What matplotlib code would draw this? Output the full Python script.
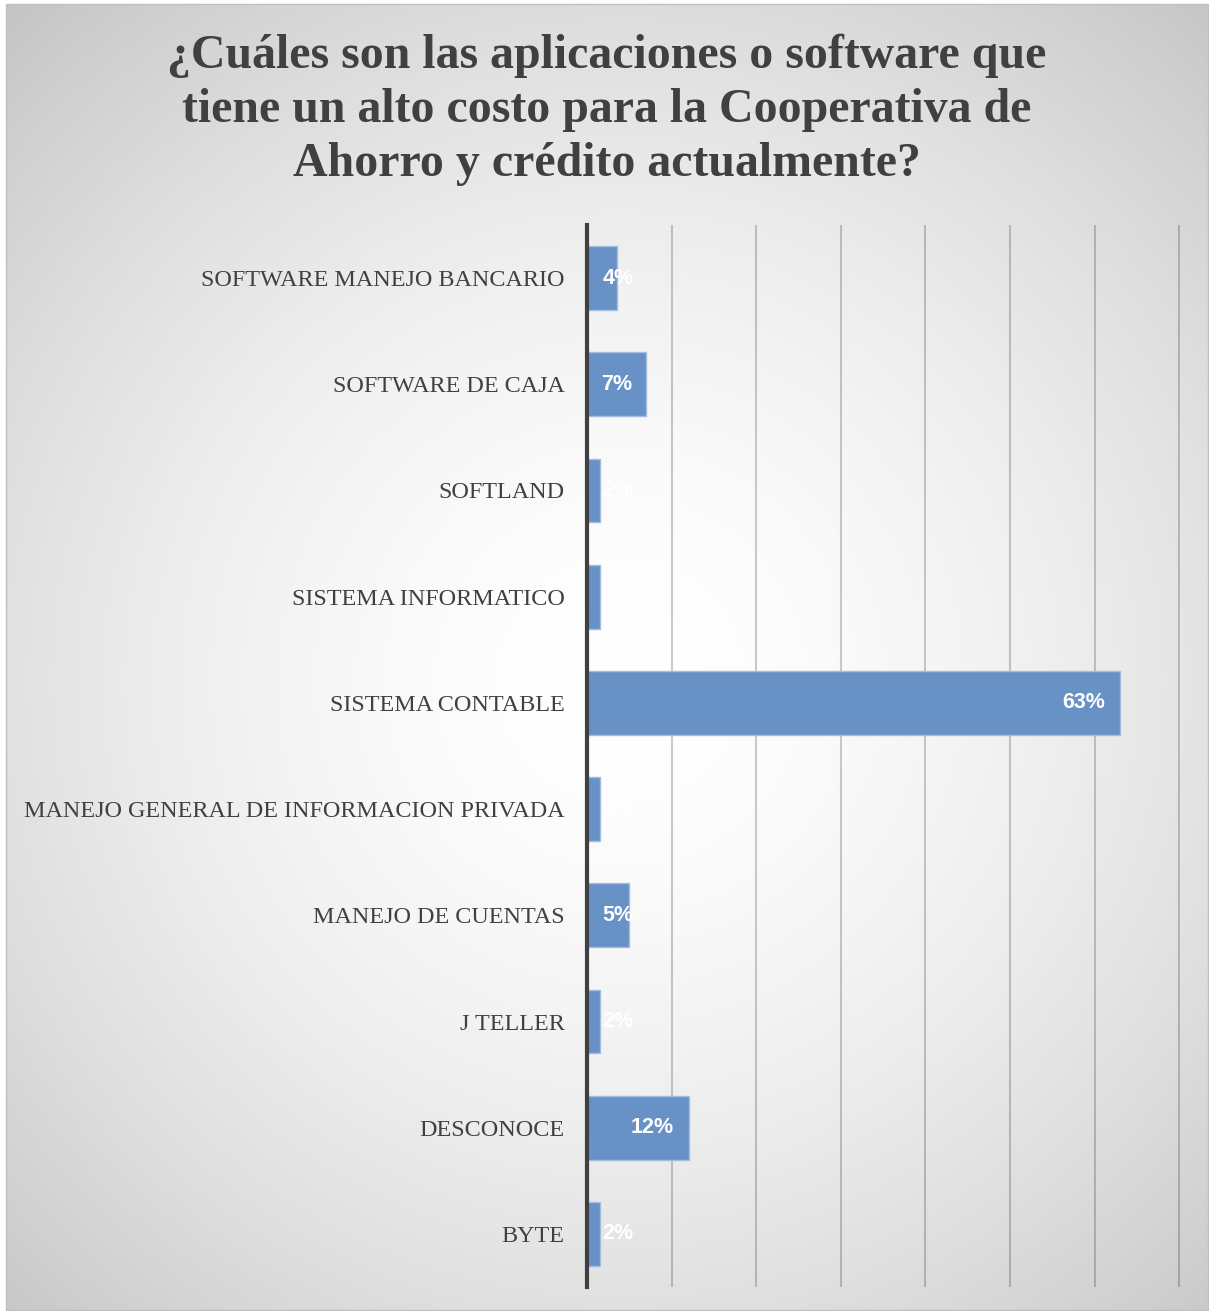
import matplotlib

matplotlib.use("Agg")
import matplotlib.pyplot as plt
import numpy as np
from matplotlib.patches import Rectangle

categories = [
    "SOFTWARE MANEJO BANCARIO",
    "SOFTWARE DE CAJA",
    "SOFTLAND",
    "SISTEMA INFORMATICO",
    "SISTEMA CONTABLE",
    "MANEJO GENERAL DE INFORMACION PRIVADA",
    "MANEJO DE CUENTAS",
    "J TELLER",
    "DESCONOCE",
    "BYTE",
]
values = [3.5, 7, 1.5, 1.5, 63, 1.5, 5, 1.5, 12, 1.5]
labels = ["4%", "7%", "2%", "2%", "63%", "2%", "5%", "2%", "12%", "2%"]
grid_ticks = [10, 20, 30, 40, 50, 60, 70]

title = ("¿Cuáles son las aplicaciones o software que\n"
         "tiene un alto costo para la Cooperativa de\n"
         "Ahorro y crédito actualmente?")

W, H = 1209, 1311
fig = plt.figure(figsize=(W / 100, H / 100), dpi=100)
fig.patch.set_facecolor("white")

# radial grey gradient behind the chart (white centre, grey corners)
x0, y0, x1, y1 = 6, 4, 1208, 1310
bg = fig.add_axes([x0 / W, 1 - y1 / H, (x1 - x0) / W, (y1 - y0) / H], zorder=-2)
yy, xx = np.mgrid[y0:y1, x0:x1]
r = np.sqrt((xx - 620) ** 2 + (yy - 680) ** 2) / 900
shade = 255 - 57 * np.clip(r, 0, 1.1) ** 1.7
img = np.dstack([shade, shade, shade]) / 255
bg.imshow(np.clip(img, 0, 1), aspect="auto", interpolation="bilinear")
bg.axis("off")
fig.patches.append(Rectangle((x0 / W, 1 - y1 / H), (x1 - x0) / W, (y1 - y0) / H,
                             transform=fig.transFigure, fill=False,
                             edgecolor="#bfbfbf", linewidth=1))

ax = fig.add_axes([587 / W, 1 - 1287 / H, (1180 - 587) / W, (1287 - 225) / H])
ax.set_facecolor("none")
ypos = np.arange(len(categories))
ax.barh(ypos, values, height=0.6, color="#6892c6", edgecolor="#a3bde0",
        linewidth=1, zorder=3)
ax.set_ylim(len(categories) - 0.5, -0.5)
ax.set_xlim(0, 70.1)
ax.set_xticks(grid_ticks)
ax.xaxis.grid(True, color="black", alpha=0.2, linewidth=1.5, zorder=0)
ax.tick_params(axis="x", length=0, labelbottom=False)
ax.tick_params(axis="y", length=0, pad=16)
ax.set_yticks(ypos)
ax.set_yticklabels(categories, fontsize=17.4, family="Liberation Serif", color="#404040")
for side in ("top", "right", "bottom"):
    ax.spines[side].set_visible(False)
ax.spines["left"].set_color("#404040")
ax.spines["left"].set_linewidth(3)
ax.spines["left"].set_zorder(4)

for y, v, lab in zip(ypos, values, labels):
    if v >= 7:
        ax.text(v - 1.7, y, lab, ha="right", va="center", color="white",
                fontsize=15.5, fontweight="bold", family="Liberation Sans", zorder=5)
    else:
        ax.text(1.8, y, lab, ha="left", va="center", color="white",
                fontsize=15.5, fontweight="bold", family="Liberation Sans", zorder=5)

fig.text(607 / W, 1 - 110 / H, title, ha="center", va="center", fontsize=34.5,
         fontweight="bold", family="Liberation Serif", color="#404040", linespacing=1.3)

fig.savefig("out.png", dpi=100)
